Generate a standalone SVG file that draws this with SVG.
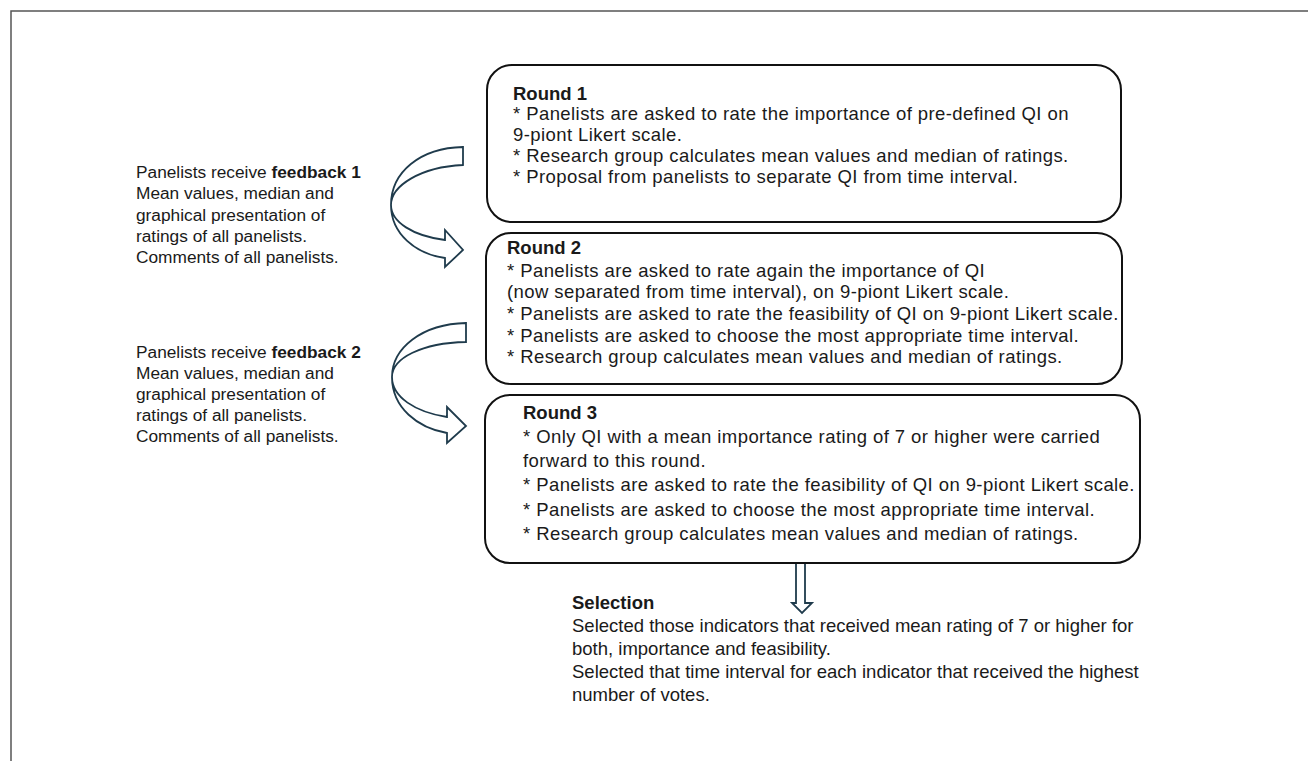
<svg xmlns="http://www.w3.org/2000/svg" width="1308" height="761" viewBox="0 0 1308 761">
<style>
text{font-family:"Liberation Sans",Arial,sans-serif;font-size:18.5px;letter-spacing:0.42px;fill:#1a1a1a}
.b{font-weight:bold;letter-spacing:0}
.l{font-size:17.3px;letter-spacing:0}
.s{font-size:18.5px;letter-spacing:0}
.box{fill:#fff;stroke:#111;stroke-width:2}
.arr{fill:#fff;stroke:#1f3b4c;stroke-width:1.8;stroke-linejoin:miter}
.frame{fill:none;stroke:#555;stroke-width:1.5}
</style>
<rect width="1308" height="761" fill="#fff"/>
<path class="frame" d="M11,761 V11 H1308"/>
<g id="connectors">
<path class="arr" d="M463,147 C420,148 391,172 391,205 C391,234 416,254 445,258 L445,267 L463,250 L445,230 L445,240 C413,236 391,222 391,205 C391,186 420,167 463,165 Z"/>
<path class="arr" d="M466,323 C422,324 392,348 392,377 C392,408 418,428 447,433 L447,443 L466,426 L447,407 L447,417 C415,412 392,397 392,377 C392,358 422,343 466,342 Z"/>
<path class="arr" d="M796,563 V603 H792 L802,613 L812,603 H805 V563 Z"/>
</g>
<g id="round1">
<rect class="box" x="487" y="65" width="634" height="157" rx="25"/>
<text x="513" y="100"><tspan class="b">Round 1</tspan><tspan x="513" y="120">* Panelists are asked to rate the importance of pre-defined QI on</tspan><tspan x="513" y="141">9-piont Likert scale.</tspan><tspan x="513" y="162">* Research group calculates mean values and median of ratings.</tspan><tspan x="513" y="183">* Proposal from panelists to separate QI from time interval.</tspan></text>
</g>
<g id="round2">
<rect class="box" x="486" y="233" width="636" height="151" rx="25"/>
<text x="507" y="254"><tspan class="b">Round 2</tspan><tspan x="507" y="277">* Panelists are asked to rate again the importance of QI</tspan><tspan x="507" y="298">(now separated from time interval), on 9-piont Likert scale.</tspan><tspan x="507" y="320">* Panelists are asked to rate the feasibility of QI on 9-piont Likert scale.</tspan><tspan x="507" y="342">* Panelists are asked to choose the most appropriate time interval.</tspan><tspan x="507" y="363">* Research group calculates mean values and median of ratings.</tspan></text>
</g>
<g id="round3">
<rect class="box" x="485" y="395" width="655" height="168" rx="25"/>
<text x="523" y="419"><tspan class="b">Round 3</tspan><tspan x="523" y="443">* Only QI with a mean importance rating of 7 or higher were carried</tspan><tspan x="523" y="467">forward to this round.</tspan><tspan x="523" y="491">* Panelists are asked to rate the feasibility of QI on 9-piont Likert scale.</tspan><tspan x="523" y="516">* Panelists are asked to choose the most appropriate time interval.</tspan><tspan x="523" y="540">* Research group calculates mean values and median of ratings.</tspan></text>
</g>
<g id="feedback1">
<text x="136" y="178" class="l">Panelists receive <tspan class="b">feedback 1</tspan><tspan x="136" y="199">Mean values, median and</tspan><tspan x="136" y="221">graphical presentation of</tspan><tspan x="136" y="242">ratings of all panelists.</tspan><tspan x="136" y="263">Comments of all panelists.</tspan></text>
</g>
<g id="feedback2">
<text x="136" y="358" class="l">Panelists receive <tspan class="b">feedback 2</tspan><tspan x="136" y="379">Mean values, median and</tspan><tspan x="136" y="400">graphical presentation of</tspan><tspan x="136" y="421">ratings of all panelists.</tspan><tspan x="136" y="442">Comments of all panelists.</tspan></text>
</g>
<g id="selection">
<text x="572" y="609" class="s"><tspan class="b">Selection</tspan><tspan x="572" y="632">Selected those indicators that received mean rating of 7 or higher for</tspan><tspan x="572" y="655">both, importance and feasibility.</tspan><tspan x="572" y="678">Selected that time interval for each indicator that received the highest</tspan><tspan x="572" y="701">number of votes.</tspan></text>
</g>
</svg>
